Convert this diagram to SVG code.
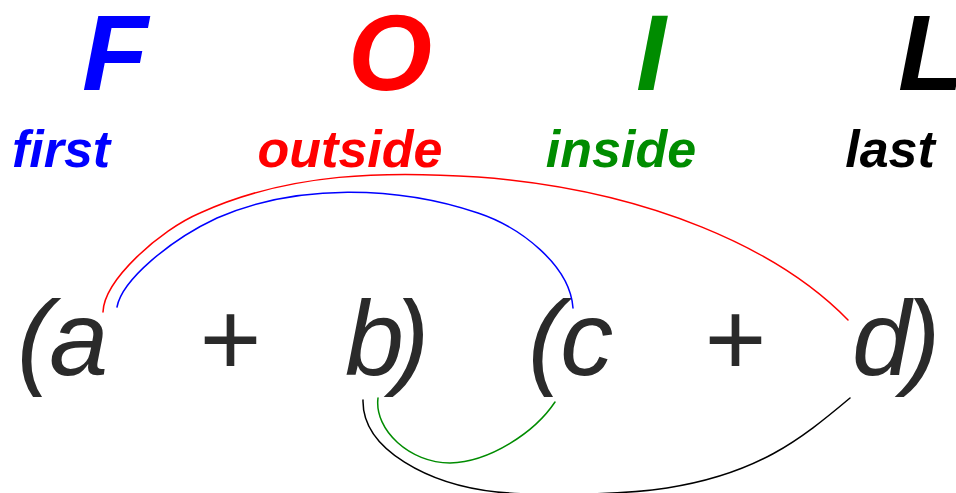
<svg xmlns="http://www.w3.org/2000/svg" width="956" height="493" viewBox="0 0 956 493">
<style>
text{font-family:"Liberation Sans",Arial,sans-serif;font-style:italic}
.big{font-size:108px;font-weight:bold;text-anchor:middle}
.lab{font-size:52px;font-weight:bold;text-anchor:middle}
.ex{font-size:106px;fill:#2a2a2a}
.arc{fill:none;stroke-width:1.5;stroke-linecap:round}
.blue{fill:#0000ff}.red{fill:#ff0000}.green{fill:#008c00}.black{fill:#000}
</style>
<rect width="956" height="493" fill="#fff"/>
<g id="first">
<text class="big blue" x="115" y="90">F</text>
<text class="lab blue" x="61" y="167">first</text>
</g>
<g id="outside">
<text class="big red" x="390" y="90">O</text>
<text class="lab red" x="350" y="167">outside</text>
</g>
<g id="inside">
<text class="big green" x="651" y="90">I</text>
<text class="lab green" x="621" y="167">inside</text>
</g>
<g id="last">
<text class="big black" x="931" y="90">L</text>
<text class="lab black" x="890" y="167">last</text>
</g>
<g id="left-factor">
<text class="ex" x="17" y="375">(<tspan dx="-3">a</tspan></text>
<text class="ex" x="198" y="375">+</text>
<text class="ex" x="345" y="375">b<tspan dx="-10">)</tspan></text>
</g>
<g id="right-factor">
<text class="ex" x="528" y="375">(<tspan dx="-3">c</tspan></text>
<text class="ex" x="703" y="375">+</text>
<text class="ex" x="852" y="375">d<tspan dx="-6">)</tspan></text>
</g>
<g id="connectors">
<path class="arc" stroke="#ff0000" d="M103,312 C104,280 160,230 200,213 C290,172 388,171 478,177 C650,190 780,250 848,320"/>
<path class="arc" stroke="#0000ff" d="M117,307 C122,280 170,240 217,218 C297,183 398,186 478,213 C520,227 570,265 573,308"/>
<path class="arc" stroke="#008c00" d="M378,398 C374,430 410,463 450,463 C490,462 535,432 555,402"/>
<path class="arc" stroke="#000000" d="M363,400 C362,450 430,485 497,492 C547,497 627,494 667,488 C757,474 800,440 850,398"/>
</g>
</svg>
